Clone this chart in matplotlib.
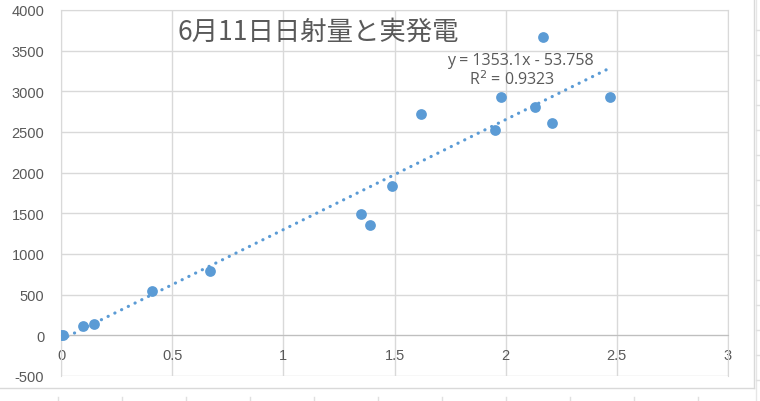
import numpy as np
import matplotlib
matplotlib.use("Agg")
import matplotlib.pyplot as plt
from matplotlib.lines import Line2D

plt.rcParams['font.family'] = ['Noto Sans CJK JP', 'DejaVu Sans']

# 日射量 (x) と 実発電 (y)
nissha = [0.0, 0.01, 0.10, 0.15, 0.41, 0.67, 1.35, 1.39, 1.49, 1.62,
          1.95, 1.98, 2.13, 2.17, 2.21, 2.47]
hatsuden = [0, 5, 110, 140, 545, 785, 1495, 1360, 1830, 2725,
            2530, 2925, 2805, 3665, 2605, 2925]

# trendline from the chart label
slope = 1353.1
intercept = -53.758
r2 = 0.9323

title = "6月11日日射量と実発電"
xticks = [0, 0.5, 1, 1.5, 2, 2.5, 3]
yticks = [-500, 0, 500, 1000, 1500, 2000, 2500, 3000, 3500, 4000]

blue = '#5B9BD5'
txt = '#595959'
grid = '#D9D9D9'

fig = plt.figure(figsize=(7.6, 4.02), dpi=100)
ax = fig.add_axes([61/760, 25/402, (728-61)/760, (391-25)/402])

xs = np.array([min(nissha), max(nissha)])
ax.plot(xs, slope*xs + intercept, color=blue, lw=2.3, linestyle=(0, (0.05, 2.3)),
        dash_capstyle='round', zorder=2)
ax.scatter(nissha, hatsuden, s=60, color=blue, zorder=3, linewidths=0)

ax.set_xlim(0, 3)
ax.set_ylim(-500, 4000)
ax.set_xticks(xticks)
ax.set_xticklabels([str(t) for t in xticks])
ax.set_yticks(yticks)
ax.set_yticklabels([str(t) for t in yticks])
ax.grid(True, color=grid, lw=1)
ax.set_axisbelow(True)

for s in ['left', 'right', 'top']:
    ax.spines[s].set_color(grid)
ax.spines['bottom'].set_position(('data', 0))
ax.spines['bottom'].set_color('#BFBFBF')
ax.tick_params(length=0, colors=txt, labelsize=10.5)
ax.tick_params(axis='y', pad=12)
ax.tick_params(axis='x', pad=9)
for lab in ax.get_xticklabels() + ax.get_yticklabels():
    lab.set_family(['Liberation Sans', 'DejaVu Sans'])

ax.text(0.175, 0.943, title, transform=ax.transAxes, fontsize=19, color=txt,
        ha='left', va='center')
ax.text(2.065, 3385, "y = %s x - %s".replace(" x", "x") % (slope, -intercept),
        ha='center', va='center', fontsize=11.5, color=txt,
        family=['Open Sans', 'DejaVu Sans'])
ax.text(2.03, 3151, "R$^2$ = %s" % r2,
        ha='center', va='center', fontsize=11.5, color=txt,
        family=['Open Sans', 'DejaVu Sans'])

# chart border and spreadsheet cells around it
fig.add_artist(Line2D([754/760, 754/760], [1 - 389/402, 1], color='#D9D9D9', lw=1,
                      transform=fig.transFigure))
fig.add_artist(Line2D([0, 754/760], [1 - 389/402, 1 - 389/402], color='#D9D9D9', lw=1,
                      transform=fig.transFigure))
fig.add_artist(Line2D([756/760, 756/760], [0, 1], color='#E6E6E6', lw=1,
                      transform=fig.transFigure))
for k in range(16):
    yy = 1 - (30.5 + 25*k)/402
    if yy > 0:
        fig.add_artist(Line2D([756/760, 1], [yy, yy], color='#E0E0E0', lw=1,
                              transform=fig.transFigure))
for k in range(11):
    xx = (58 + 64*k)/760
    if xx < 754/760:
        fig.add_artist(Line2D([xx, xx], [0, 4/402], color='#E0E0E0', lw=1,
                              transform=fig.transFigure))

fig.savefig('out.png', dpi=100)
